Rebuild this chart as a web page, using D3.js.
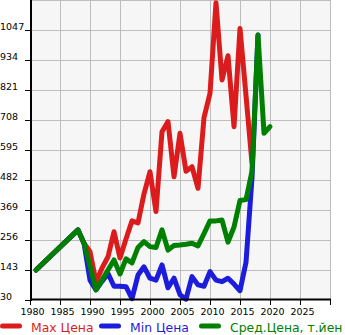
<!DOCTYPE html>
<html>
<head>
<meta charset="utf-8">
<script src="https://cdn.jsdelivr.net/npm/d3@7"></script>
<style>
  html, body { margin: 0; padding: 0; background: #ffffff; }
  svg { display: block; }
  text { font-family: "DejaVu Sans", sans-serif; }
</style>
</head>
<body>
<svg id="chart" width="345" height="335"></svg>
<script>
// Years with observations (1982–1987 have no data)
const years = [1981, 1988, 1989, 1990, 1991, 1992, 1993, 1994, 1995, 1996, 1997, 1998, 1999,
  2000, 2001, 2002, 2003, 2004, 2005, 2006, 2007, 2008, 2009, 2010, 2011, 2012, 2013,
  2014, 2015, 2016, 2017, 2018, 2019, 2020];

const maxPrice = [143, 294, 244, 212, 99, 150, 193, 287, 188, 260, 328, 320, 430,
  513, 363, 664, 702, 494, 658, 515, 532, 451, 717, 808, 1150, 859, 950,
  683, 1053, 800, 545, null, null, null];

const minPrice = [143, 294, 244, 105, 68, 100, 130, 82, 82, 80, 35, 124, 155,
  112, 105, 162, 76, 112, 50, 33, 118, 87, 82, 137, 105, 99, 112,
  90, 65, 172, 490, 1028, null, null];

const avgPrice = [143, 294, 244, 158, 68, 105, 143, 181, 128, 185, 170, 228, 250,
  231, 228, 294, 218, 235, 237, 240, 244, 234, 280, 328, 328, 331, 248,
  305, 405, 408, 515, 1028, 658, 683];

const yTicks = [30, 143, 256, 369, 482, 595, 708, 821, 934, 1047, 1160];
const xTicks = [1980, 1985, 1990, 1995, 2000, 2005, 2010, 2015, 2020, 2025, 2030];

const seriesNames = ["Max Цена", "Min Цена", "Сред.Цена, т.йен"];
const seriesColors = ["#dc1c1c", "#1c1cdc", "#008000"];

const svg = d3.select("#chart");
const x = d3.scaleLinear().domain([1980, 2030]).range([30, 330]);
const y = d3.scaleLinear().domain([30, 1160]).range([300, 0]);

// plot background
svg.append("rect")
  .attr("x", 30).attr("y", 0).attr("width", 300).attr("height", 300)
  .attr("fill", "#f6f6f6");

// grid
svg.append("g").selectAll("line").data(xTicks.slice(1)).join("line")
  .attr("x1", d => x(d) + 0.5).attr("x2", d => x(d) + 0.5)
  .attr("y1", 0).attr("y2", 300)
  .attr("stroke", "#bdbdbd").attr("stroke-width", 1);
svg.append("g").selectAll("line").data(yTicks.slice(1)).join("line")
  .attr("x1", 30).attr("x2", 330)
  .attr("y1", d => Math.round(y(d)) + 0.5).attr("y2", d => Math.round(y(d)) + 0.5)
  .attr("stroke", "#bdbdbd").attr("stroke-width", 1);

// series lines
const line = d3.line()
  .x(d => x(d.year))
  .y(d => y(d.value));

[maxPrice, minPrice, avgPrice].forEach((vals, i) => {
  const pts = years.map((yr, j) => ({ year: yr, value: vals[j] }))
    .filter(d => d.value != null);
  svg.append("path")
    .datum(pts)
    .attr("d", line)
    .attr("fill", "none")
    .attr("stroke", seriesColors[i])
    .attr("stroke-width", 5)
    .attr("stroke-linejoin", "round")
    .attr("stroke-linecap", "round");
});

// left axis
const yAxis = svg.append("g");
yAxis.append("line")
  .attr("x1", 31).attr("x2", 31).attr("y1", 0).attr("y2", 301)
  .attr("stroke", "#000").attr("stroke-width", 2);
yAxis.selectAll("line.tick").data(yTicks.slice(0, -1)).join("line")
  .attr("class", "tick")
  .attr("x1", 25).attr("x2", 30)
  .attr("y1", d => Math.round(y(d)) + 0.5).attr("y2", d => Math.round(y(d)) + 0.5)
  .attr("stroke", "#000").attr("stroke-width", 1);
yAxis.selectAll("text").data(yTicks.slice(0, -1)).join("text")
  .attr("x", 0).attr("y", d => y(d) - 0.5)
  .attr("font-size", "9.5px").attr("fill", "#000")
  .text(d => d);

// bottom axis
const xAxis = svg.append("g");
xAxis.append("line")
  .attr("x1", 30).attr("x2", 331).attr("y1", 299.5).attr("y2", 299.5)
  .attr("stroke", "#000").attr("stroke-width", 2);
xAxis.selectAll("line.tick").data(xTicks).join("line")
  .attr("class", "tick")
  .attr("x1", d => x(d) + 0.5).attr("x2", d => x(d) + 0.5)
  .attr("y1", 300).attr("y2", 305)
  .attr("stroke", "#000").attr("stroke-width", 1);
xAxis.selectAll("text").data(xTicks.slice(0, -1)).join("text")
  .attr("x", d => x(d) + 2.5).attr("y", 315)
  .attr("text-anchor", "middle")
  .attr("font-size", "9.5px").attr("fill", "#000")
  .text(d => d);

// legend
const legendX = [0, 99, 199];
const legend = svg.append("g");
seriesNames.forEach((name, i) => {
  legend.append("line")
    .attr("x1", legendX[i] + 2.5).attr("x2", legendX[i] + 19.5)
    .attr("y1", 326).attr("y2", 326)
    .attr("stroke", seriesColors[i]).attr("stroke-width", 5)
    .attr("stroke-linecap", "round");
  legend.append("text")
    .attr("x", legendX[i] + 31).attr("y", 331.5)
    .attr("font-size", "12.4px").attr("fill", seriesColors[i])
    .text(name);
});
</script>
</body>
</html>
